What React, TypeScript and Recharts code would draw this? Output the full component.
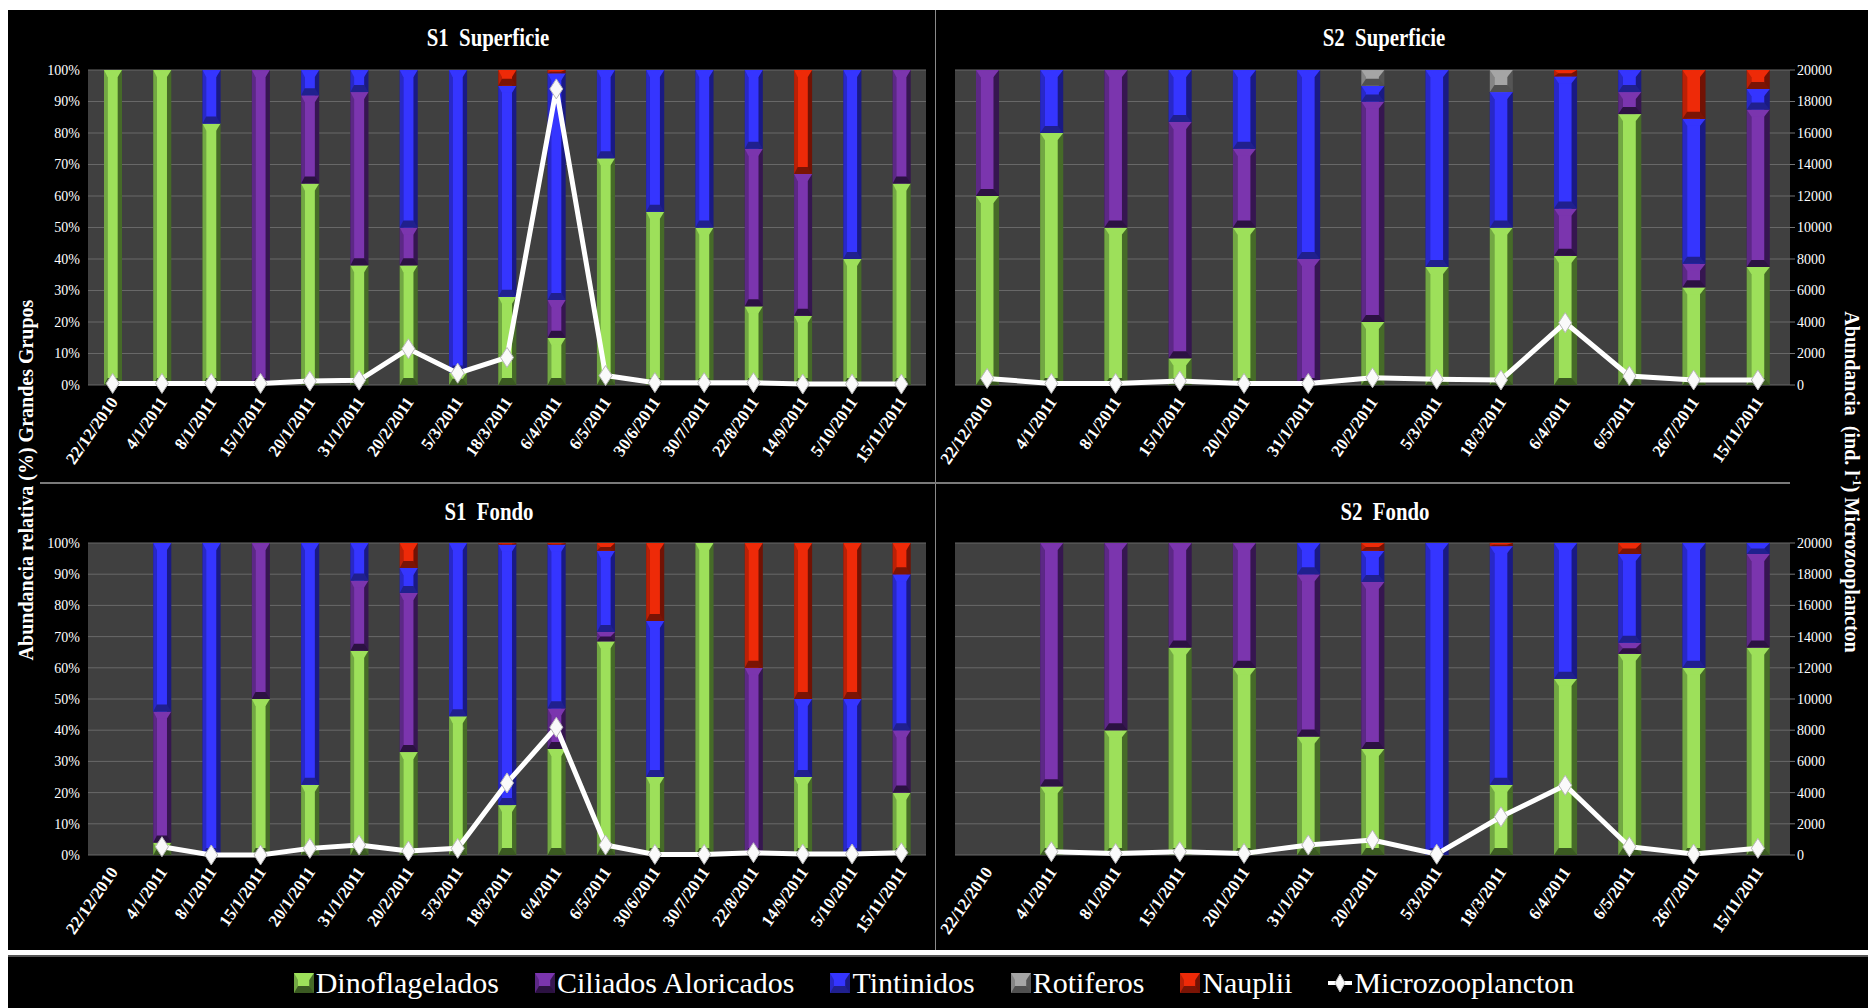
import { Bar, CartesianGrid, ComposedChart, Line, XAxis, YAxis } from 'recharts';

const FONT = '"Liberation Serif", "Times New Roman", serif';

// sampling dates
const datesS1 = [
  '22/12/2010', '4/1/2011', '8/1/2011', '15/1/2011', '20/1/2011', '31/1/2011', '20/2/2011', '5/3/2011',
  '18/3/2011', '6/4/2011', '6/5/2011', '30/6/2011', '30/7/2011', '22/8/2011', '14/9/2011', '5/10/2011', '15/11/2011',
];
const datesS2 = [
  '22/12/2010', '4/1/2011', '8/1/2011', '15/1/2011', '20/1/2011', '31/1/2011', '20/2/2011', '5/3/2011',
  '18/3/2011', '6/4/2011', '6/5/2011', '26/7/2011', '15/11/2011',
];

const pctTicks = [0, 10, 20, 30, 40, 50, 60, 70, 80, 90, 100];
const countTicks = [0, 2000, 4000, 6000, 8000, 10000, 12000, 14000, 16000, 18000, 20000];

// S1 Superficie (% of total, ind. l-1)
const s1SupDino = [100, 100, 83, 0, 64, 38, 38, 4, 28, 15, 72, 55, 50, 25, 22, 40, 64];
const s1SupCil = [0, 0, 0, 100, 28, 55, 12, 0, 0, 12, 0, 0, 0, 50, 45, 0, 36];
const s1SupTin = [0, 0, 17, 0, 8, 7, 50, 96, 67, 72, 28, 45, 50, 25, 0, 60, 0];
const s1SupRot = [0, 0, 0, 0, 0, 0, 0, 0, 0, 0, 0, 0, 0, 0, 0, 0, 0];
const s1SupNau = [0, 0, 0, 0, 0, 0, 0, 0, 5, 1, 0, 0, 0, 0, 33, 0, 0];
const s1SupMicro = [100, 100, 100, 100, 250, 300, 2300, 750, 1750, 18800, 600, 150, 150, 150, 60, 60, 60];

// S2 Superficie
const s2SupDino = [60, 80, 50, 8.5, 50, 0, 20, 37.5, 50, 41, 86, 31, 37.5];
const s2SupCil = [40, 0, 50, 75, 25, 40, 70, 0, 0, 15, 7, 7.5, 50];
const s2SupTin = [0, 20, 0, 16.5, 25, 60, 5, 62.5, 43, 42, 7, 46, 6.5];
const s2SupRot = [0, 0, 0, 0, 0, 0, 5, 0, 7, 0, 0, 0, 0];
const s2SupNau = [0, 0, 0, 0, 0, 0, 0, 0, 0, 2, 0, 15.5, 6];
const s2SupMicro = [420, 100, 100, 250, 100, 100, 460, 360, 320, 3960, 570, 320, 320];

// S1 Fondo (first date without sample)
const s1FonDino = [null, 4, 0, 50, 22.5, 65.5, 33, 44.5, 16, 34, 68.5, 25, 100, 0, 25, 0, 20];
const s1FonCil = [null, 42, 0, 50, 0, 22.5, 51, 0, 0, 13, 3, 0, 0, 60, 0, 0, 20];
const s1FonTin = [null, 54, 100, 0, 77.5, 12, 8, 55.5, 83.5, 52.5, 26, 50, 0, 0, 25, 50, 50];
const s1FonRot = [null, 0, 0, 0, 0, 0, 0, 0, 0, 0, 0, 0, 0, 0, 0, 0, 0];
const s1FonNau = [null, 0, 0, 0, 0, 0, 8, 0, 0.5, 0.5, 2.5, 25, 0, 40, 50, 50, 10];
const s1FonMicro = [null, 530, 0, 0, 425, 640, 255, 425, 4620, 8190, 640, 40, 40, 150, 60, 60, 150];

// S2 Fondo
const s2FonDino = [null, 22, 40, 66.5, 60, 38, 34, 0, 22.5, 56.5, 64.5, 60, 66.5];
const s2FonCil = [null, 78, 60, 33.5, 40, 52, 53.5, 0, 0, 0, 3.5, 0, 30];
const s2FonTin = [null, 0, 0, 0, 0, 10, 10, 100, 76.5, 43.5, 28.5, 40, 3.5];
const s2FonRot = [null, 0, 0, 0, 0, 0, 0, 0, 0, 0, 0, 0, 0];
const s2FonNau = [null, 0, 0, 0, 0, 0, 2.5, 0, 1, 0, 3.5, 0, 0];
const s2FonMicro = [null, 210, 100, 210, 100, 640, 960, 50, 2450, 4470, 530, 60, 430];

const groups = [
  { key: 'dino', name: 'Dinoflagelados', light: '#9de05a', mid: '#72a843', dark: '#466b28', cap: '#3b5a22' },
  { key: 'cil', name: 'Ciliados Aloricados', light: '#7b35ae', mid: '#5c2886', dark: '#361650', cap: '#2c1242' },
  { key: 'tin', name: 'Tintinidos', light: '#3535ff', mid: '#2828c8', dark: '#1a1a84', cap: '#20208e' },
  { key: 'rot', name: 'Rotiferos', light: '#a5a5a5', mid: '#858585', dark: '#555555', cap: '#505050' },
  { key: 'nau', name: 'Nauplii', light: '#ee2a08', mid: '#bb2006', dark: '#721204', cap: '#7a1405' },
];

type Num = number | null;

function buildRows(dates: string[], dino: Num[], cil: Num[], tin: Num[], rot: Num[], nau: Num[], micro: Num[]) {
  return dates.map((date, i) => ({
    date,
    dino: dino[i] ?? 0,
    cil: cil[i] ?? 0,
    tin: tin[i] ?? 0,
    rot: rot[i] ?? 0,
    nau: nau[i] ?? 0,
    micro: micro[i],
  }));
}

function bevel(c: any, x: number, y: number, w: number, h: number) {
  const b = Math.min(7, h / 2);
  const l = x + w * 0.2;
  const r = x + w * 0.76;
  return (
    <g>
      <rect x={x} y={y} width={w} height={h} fill={c.dark} />
      <rect x={x} y={y} width={l - x} height={h} fill={c.mid} />
      <rect x={l} y={y} width={r - l} height={h} fill={c.light} />
      <polygon points={`${x},${y} ${x + w},${y} ${r},${y + b} ${l},${y + b}`} fill={c.light} />
      <polygon points={`${l},${y + h - b} ${r},${y + h - b} ${x + w},${y + h} ${x},${y + h}`} fill={c.cap} />
    </g>
  );
}

const makeShape = (c: any) => (p: any) => {
  const { x, y, width, height } = p;
  if (!height || height < 0.5) return <g />;
  return bevel(c, x, y, width, height);
};

const Diamond = (p: any) => {
  const { cx, cy, value } = p;
  if (value == null || cx == null || cy == null) return <g />;
  return (
    <polygon
      points={`${cx},${cy - 10} ${cx + 6.5},${cy} ${cx},${cy + 10} ${cx - 6.5},${cy}`}
      fill="#fafafa"
      stroke="#b8b8b8"
      strokeWidth={1}
    />
  );
};

const DateTick = (p: any) => {
  const { x, y, payload } = p;
  const tx = x + 6;
  const ty = y + 9;
  return (
    <text
      x={tx}
      y={ty}
      transform={`rotate(-55, ${tx}, ${ty})`}
      textAnchor="end"
      fill="#fff"
      fontSize={17}
      fontWeight="bold"
      fontFamily={FONT}
    >
      {payload.value}
    </text>
  );
};

function Panel({
  rows,
  left,
  top,
  width,
  height,
  margin,
  showPct,
  showCount,
  barSize,
  xHeight,
}: {
  rows: any[];
  left: number;
  top: number;
  width: number;
  height: number;
  margin: { top: number; right: number; bottom: number; left: number };
  showPct: boolean;
  showCount: boolean;
  barSize: number;
  xHeight: number;
}) {
  return (
    <div style={{ position: 'absolute', left, top, width, height }}>
      <ComposedChart width={width} height={height} data={rows} margin={margin} barCategoryGap={0}>
        <CartesianGrid yAxisId="pct" vertical={false} stroke="#686868" fill="#404040" />
        <XAxis
          dataKey="date"
          interval={0}
          tick={<DateTick />}
          axisLine={false}
          tickLine={false}
          height={xHeight}
        />
        <YAxis
          yAxisId="pct"
          domain={[0, 100]}
          ticks={pctTicks}
          hide={!showPct}
          width={50}
          axisLine={false}
          tickLine={false}
          tickFormatter={(v) => `${v}%`}
          tick={{ fill: '#fff', fontSize: 14, fontFamily: FONT }}
        />
        <YAxis
          yAxisId="cnt"
          orientation="right"
          domain={[0, 20000]}
          ticks={countTicks}
          hide={!showCount}
          width={60}
          axisLine={false}
          tickLine={{ stroke: '#777' }}
          tickSize={5}
          tick={{ fill: '#fff', fontSize: 14, fontFamily: FONT, textAnchor: 'start' }}
        />
        {groups.map((g) => (
          <Bar
            key={g.key}
            yAxisId="pct"
            dataKey={g.key}
            stackId="a"
            barSize={barSize}
            shape={makeShape(g)}
            isAnimationActive={false}
          />
        ))}
        <Line
          yAxisId="cnt"
          dataKey="micro"
          type="linear"
          stroke="#ffffff"
          strokeWidth={5}
          dot={<Diamond />}
          activeDot={false}
          isAnimationActive={false}
        />
      </ComposedChart>
    </div>
  );
}

const titleStyle = (x: number, y: number): React.CSSProperties => ({
  position: 'absolute',
  left: x,
  top: y,
  transform: 'translate(-50%, -50%) scaleX(0.8)',
  color: '#fff',
  fontFamily: FONT,
  fontWeight: 'bold',
  fontSize: 26,
  whiteSpace: 'pre',
});

export default function App() {
  const s1Sup = buildRows(datesS1, s1SupDino, s1SupCil, s1SupTin, s1SupRot, s1SupNau, s1SupMicro);
  const s2Sup = buildRows(datesS2, s2SupDino, s2SupCil, s2SupTin, s2SupRot, s2SupNau, s2SupMicro);
  const s1Fon = buildRows(datesS1, s1FonDino, s1FonCil, s1FonTin, s1FonRot, s1FonNau, s1FonMicro);
  const s2Fon = buildRows(datesS2, s2FonDino, s2FonCil, s2FonTin, s2FonRot, s2FonNau, s2FonMicro);

  return (
    <div style={{ position: 'absolute', left: 0, top: 0, width: 1868, height: 1008, background: '#fff', overflow: 'hidden' }}>
      <div style={{ position: 'absolute', left: 8, top: 10, width: 1860, height: 940, background: '#000' }} />
      <div style={{ position: 'absolute', left: 0, top: 950, width: 1868, height: 5, background: '#fff' }} />
      <div style={{ position: 'absolute', left: 8, top: 955, width: 1860, height: 53, background: '#000' }} />
      <div style={{ position: 'absolute', left: 8, top: 955, width: 1860, height: 2, background: '#555' }} />
      <div style={{ position: 'absolute', left: 935, top: 10, width: 1, height: 940, background: '#8a8a8a' }} />
      <div style={{ position: 'absolute', left: 40, top: 482, width: 1750, height: 2, background: '#7a7a7a' }} />

      <Panel rows={s1Sup} left={8} top={10} width={927} height={473}
        margin={{ top: 60, right: 9, bottom: 8, left: 30 }} showPct showCount={false} barSize={18} xHeight={90} />
      <Panel rows={s2Sup} left={935} top={10} width={933} height={473}
        margin={{ top: 60, right: 18, bottom: 8, left: 20 }} showPct={false} showCount barSize={23} xHeight={90} />
      <Panel rows={s1Fon} left={8} top={483} width={927} height={467}
        margin={{ top: 60, right: 9, bottom: 7, left: 30 }} showPct showCount={false} barSize={18} xHeight={88} />
      <Panel rows={s2Fon} left={935} top={483} width={933} height={467}
        margin={{ top: 60, right: 18, bottom: 7, left: 20 }} showPct={false} showCount barSize={23} xHeight={88} />

      <div style={titleStyle(488, 38)}>S1  Superficie</div>
      <div style={titleStyle(1384, 38)}>S2  Superficie</div>
      <div style={titleStyle(489, 512)}>S1  Fondo</div>
      <div style={titleStyle(1385, 512)}>S2  Fondo</div>

      <div style={{ ...titleStyle(26, 480), fontSize: 20, transform: 'translate(-50%, -50%) rotate(-90deg)' }}>
        Abundancia relativa (%) Grandes Grupos
      </div>
      <div style={{ ...titleStyle(1852, 482), fontSize: 20, transform: 'translate(-50%, -50%) rotate(90deg)' }}>
        Abundancia  (ind. l<sup style={{ fontSize: 12 }}>-1</sup>) Microzooplancton
      </div>

      <div
        style={{
          position: 'absolute', left: 0, top: 957, width: 1868, height: 51,
          display: 'flex', alignItems: 'center', justifyContent: 'center', gap: 36,
          color: '#fff', fontFamily: FONT, fontSize: 30,
        }}
      >
        {groups.map((g) => (
          <div key={g.key} style={{ display: 'flex', alignItems: 'center' }}>
            <svg width={20} height={20} style={{ marginRight: 2 }}>{bevel(g, 0, 0, 20, 20)}</svg>
            <span>{g.name}</span>
          </div>
        ))}
        <div style={{ display: 'flex', alignItems: 'center' }}>
          <svg width={24} height={22} style={{ marginRight: 2 }}>
            <line x1={0} y1={11} x2={24} y2={11} stroke="#fff" strokeWidth={4} />
            <polygon points="12,2 17,11 12,20 7,11" fill="#fafafa" stroke="#b8b8b8" strokeWidth={1} />
          </svg>
          <span>Microzooplancton</span>
        </div>
      </div>
    </div>
  );
}
